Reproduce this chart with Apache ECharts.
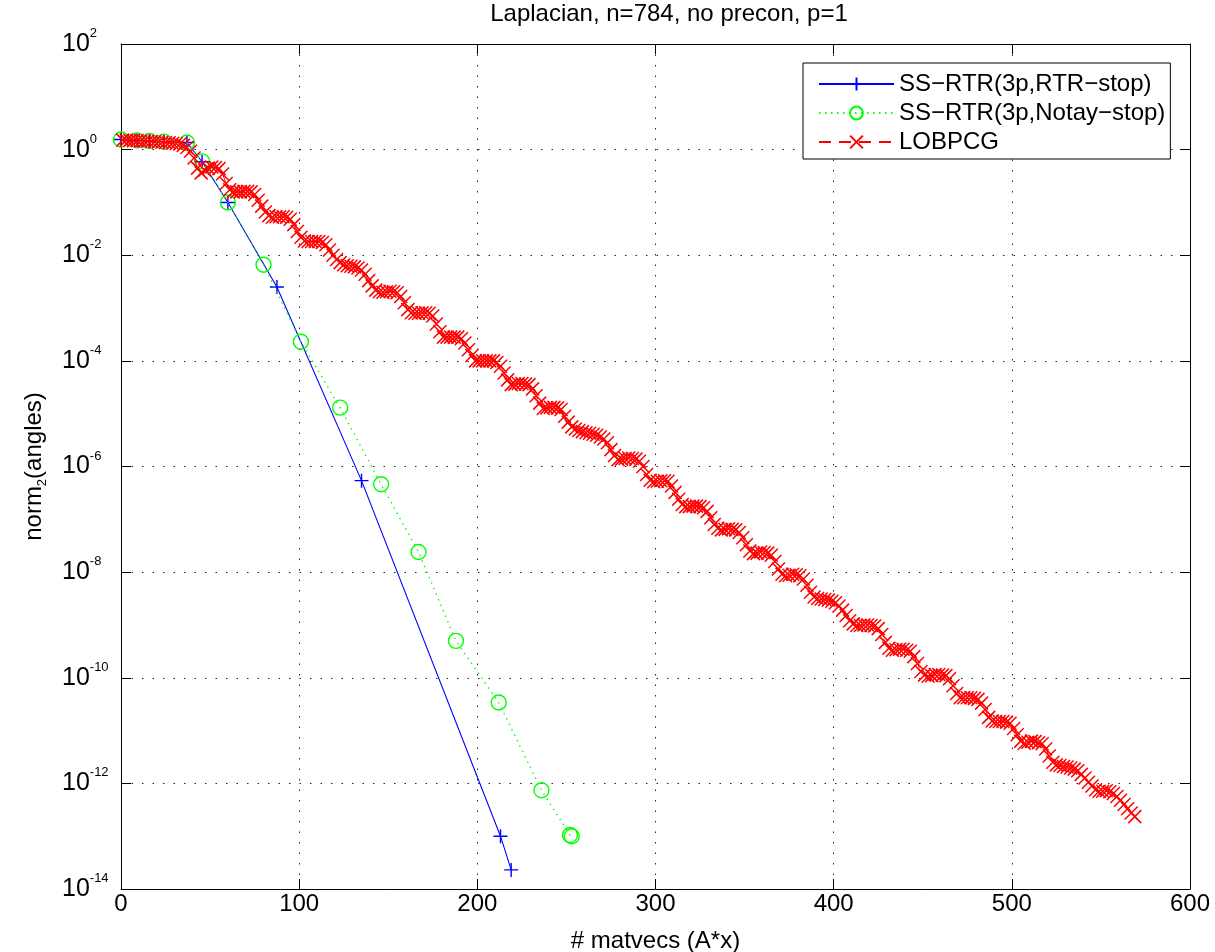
<!DOCTYPE html>
<html><head><meta charset="utf-8">
<script src="https://cdn.jsdelivr.net/npm/echarts@6/dist/echarts.min.js"></script>
<style>html,body{margin:0;padding:0;background:#fff}#c{width:1215px;height:952px}</style>
</head><body><div id="c"></div>
<script>
const titleText = 'Laplacian, n=784, no precon, p=1';
const xAxisName = '# matvecs (A*x)';
const seriesNames = ['SS\u2212RTR(3p,RTR\u2212stop)', 'SS\u2212RTR(3p,Notay\u2212stop)', 'LOBPCG'];
const xTicks = [0, 100, 200, 300, 400, 500, 600];
const yTickExponents = [2, 0, -2, -4, -6, -8, -10, -12, -14];

// SS-RTR (3p, RTR-stop)
const rtrStopX = [0, 9, 16, 24, 37, 45.5, 60, 87.5, 135, 213, 219];
const rtrStopY = [1.55, 1.5, 1.46, 1.42, 1.36, 0.59, 0.1, 2.5e-3, 5.4e-7, 1.0e-13, 2.3e-14];

// SS-RTR (3p, Notay-stop)
const notayX = [0, 9, 16, 24, 37, 45.5, 60, 80, 101, 123, 146, 167, 188, 212, 236, 252, 253];
const notayY = [1.55, 1.5, 1.46, 1.42, 1.36, 0.6, 0.1, 6.6e-3, 2.3e-4, 1.3e-5, 4.6e-7, 2.4e-8, 5.0e-10, 3.4e-11, 7.4e-13, 1.05e-13, 1.0e-13];

// LOBPCG: matvec counts start at 1, every 2nd iterate; values given as log10 exponents
const lobpcgFirstX = 1;
const lobpcgStepX = 2;
const lobpcgLog10 = [
  0.18, 0.18, 0.175, 0.17, 0.17, 0.165, 0.16, 0.16, 0.155, 0.15,
  0.145, 0.14, 0.135, 0.13, 0.12, 0.115, 0.105, 0.08, 0.04, -0.03,
  -0.16, -0.35, -0.44, -0.39, -0.35, -0.33, -0.34, -0.36, -0.46, -0.64,
  -0.76, -0.80, -0.80, -0.80, -0.79, -0.79, -0.80, -0.85, -0.96, -1.07,
  -1.18, -1.25, -1.28, -1.27, -1.27, -1.27, -1.28, -1.32, -1.42, -1.55,
  -1.66, -1.73, -1.74, -1.74, -1.74, -1.74, -1.76, -1.80, -1.90, -2.00,
  -2.08, -2.14, -2.18, -2.20, -2.21, -2.22, -2.24, -2.28, -2.36, -2.48,
  -2.58, -2.66, -2.69, -2.70, -2.69, -2.68, -2.69, -2.71, -2.78, -2.90,
  -3.03, -3.09, -3.10, -3.10, -3.09, -3.09, -3.10, -3.15, -3.30, -3.45,
  -3.55, -3.55, -3.55, -3.55, -3.55, -3.58, -3.66, -3.79, -3.90, -4.00,
  -4.00, -4.00, -4.00, -4.00, -4.00, -4.03, -4.10, -4.23, -4.36, -4.45,
  -4.44, -4.43, -4.43, -4.44, -4.45, -4.53, -4.66, -4.80, -4.90, -4.89,
  -4.88, -4.88, -4.89, -4.92, -5.05, -5.16, -5.25, -5.29, -5.32, -5.34,
  -5.36, -5.37, -5.39, -5.41, -5.44, -5.48, -5.55, -5.68, -5.79, -5.87,
  -5.86, -5.85, -5.84, -5.85, -5.86, -5.90, -6.00, -6.15, -6.26, -6.29,
  -6.28, -6.27, -6.27, -6.28, -6.37, -6.49, -6.62, -6.72, -6.76, -6.76,
  -6.75, -6.75, -6.76, -6.78, -6.85, -6.97, -7.10, -7.17, -7.20, -7.19,
  -7.18, -7.19, -7.20, -7.25, -7.35, -7.48, -7.60, -7.65, -7.64, -7.62,
  -7.63, -7.64, -7.68, -7.80, -7.94, -8.04, -8.07, -8.06, -8.04, -8.05,
  -8.07, -8.13, -8.25, -8.38, -8.47, -8.50, -8.51, -8.52, -8.53, -8.55,
  -8.58, -8.64, -8.72, -8.82, -8.92, -8.98, -9.01, -9.01, -9.00, -9.00,
  -9.01, -9.02, -9.07, -9.18, -9.33, -9.44, -9.48, -9.47, -9.46, -9.46,
  -9.48, -9.50, -9.60, -9.73, -9.88, -9.95, -9.97, -9.96, -9.94, -9.94,
  -9.95, -9.96, -10.02, -10.15, -10.30, -10.38, -10.38, -10.38, -10.38, -10.39,
  -10.41, -10.48, -10.60, -10.75, -10.82, -10.83, -10.83, -10.83, -10.84, -10.86,
  -10.96, -11.08, -11.20, -11.24, -11.22, -11.20, -11.21, -11.23, -11.25, -11.35,
  -11.48, -11.60, -11.65, -11.66, -11.68, -11.69, -11.71, -11.73, -11.76, -11.83,
  -11.90, -11.98, -12.05, -12.12, -12.15, -12.15, -12.14, -12.16, -12.19, -12.25,
  -12.32, -12.40, -12.48, -12.56, -12.63
];

const FONT = '"Liberation Sans", Helvetica, Arial, sans-serif';
const FS = 24;
const FS_TICK = 25;
const FS_SUP = 13;

const rtrData = rtrStopX.map((x, i) => [x, rtrStopY[i]]);
const notayData = notayX.map((x, i) => [x, notayY[i]]);
const lobpcgData = lobpcgLog10.map((e, i) => [lobpcgFirstX + lobpcgStepX * i, Math.pow(10, e)]);

const gridLine = { show: true, lineStyle: { color: '#262626', width: 1, type: [1.5, 9] } };
const axisLine = { show: true, onZero: false, lineStyle: { color: '#000', width: 1 } };
const tickIn = { show: true, inside: true, length: 10, lineStyle: { color: '#000', width: 1 } };

function yLabel(v) {
  const e = Math.round(Math.log10(v));
  return '{b|10}{s|' + e + '}';
}
const yRich = {
  b: { fontFamily: FONT, fontSize: FS_TICK, color: '#000', verticalAlign: 'middle', lineHeight: 34 },
  s: { fontFamily: FONT, fontSize: FS_SUP, color: '#000', verticalAlign: 'top', lineHeight: 13 }
};

const chart = echarts.init(document.getElementById('c'), null, { renderer: 'canvas' });
chart.setOption({
  animation: false,
  backgroundColor: '#fff',
  title: {
    text: titleText, left: 669, top: 2, textAlign: 'center', padding: 0,
    textStyle: { fontFamily: FONT, fontSize: FS, fontWeight: 'normal', color: '#000' }
  },
  grid: { left: 121, right: 25, top: 44, bottom: 63, containLabel: false, outerBoundsMode: 'none' },
  legend: {
    orient: 'vertical', left: 803, top: 63,
    backgroundColor: '#fff', borderColor: '#000', borderWidth: 1, borderRadius: 0,
    padding: [9, 5, 5, 15], itemGap: 5, itemWidth: 75, itemHeight: 16,
    textStyle: { fontFamily: FONT, fontSize: FS, color: '#000' },
    data: seriesNames
  },
  xAxis: [{
    type: 'value', min: xTicks[0], max: xTicks[xTicks.length - 1], interval: 100,
    name: xAxisName, nameLocation: 'middle', nameGap: 40,
    nameTextStyle: { fontFamily: FONT, fontSize: FS, color: '#000' },
    axisLine: axisLine, axisTick: tickIn,
    axisLabel: { fontFamily: FONT, fontSize: FS, color: '#000', margin: 3 },
    splitLine: gridLine
  }, {
    type: 'value', position: 'top', min: xTicks[0], max: xTicks[xTicks.length - 1], interval: 100,
    axisLine: axisLine, axisTick: tickIn, axisLabel: { show: false }, splitLine: { show: false }
  }],
  yAxis: [{
    type: 'log', logBase: 10, min: 1e-14, max: 1e2, interval: 2,
    name: '{n|norm}{sub|2}{n|(angles)}', nameLocation: 'middle', nameGap: 72, nameRotate: 90,
    nameTextStyle: {
      rich: {
        n: { fontFamily: FONT, fontSize: FS, color: '#000', verticalAlign: 'middle', lineHeight: 30 },
        sub: { fontFamily: FONT, fontSize: FS_SUP, color: '#000', verticalAlign: 'bottom', lineHeight: 13 }
      }
    },
    axisLine: axisLine, axisTick: tickIn,
    axisLabel: { formatter: yLabel, rich: yRich, margin: 59, align: 'left' },
    splitLine: gridLine, minorTick: { show: false }
  }, {
    type: 'log', logBase: 10, min: 1e-14, max: 1e2, interval: 2, position: 'right',
    axisLine: axisLine, axisTick: tickIn, axisLabel: { show: false }, splitLine: { show: false }
  }],
  series: [{
    name: seriesNames[0], type: 'line', data: rtrData,
    symbol: 'path://M0,6L12,6M6,0L6,12', symbolSize: 14, showAllSymbol: true,
    lineStyle: { color: '#0000ff', width: 1.1, type: 'solid' },
    itemStyle: { color: '#0000ff', borderColor: '#0000ff', borderWidth: 1.4 },
    z: 2
  }, {
    name: seriesNames[1], type: 'line', data: notayData,
    symbol: 'circle', symbolSize: 15, showAllSymbol: true,
    lineStyle: { color: '#00ff00', width: 1.3, type: [1.5, 4.5] },
    itemStyle: { color: 'rgba(0,0,0,0)', borderColor: '#00ff00', borderWidth: 1.4 },
    z: 3
  }, {
    name: seriesNames[2], type: 'line', data: lobpcgData,
    symbol: 'path://M0,0L10,10M10,0L0,10', symbolSize: 13, showAllSymbol: true,
    lineStyle: { color: '#ff0000', width: 1, type: [12, 8] },
    itemStyle: { color: '#ff0000', borderColor: '#ff0000', borderWidth: 1.5 },
    z: 4
  }]
});
</script>
</body></html>
